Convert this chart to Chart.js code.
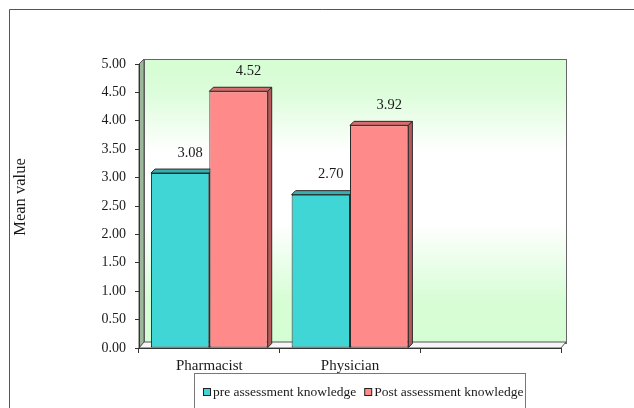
<!DOCTYPE html>
<html lang="en">
<head>
    <meta charset="UTF-8">
    <title>Mean value</title>
    <script src="https://cdn.jsdelivr.net/npm/chart.js"></script>
    <style>
        body {
            margin: 0;
            background: #ffffff;
        }
        #wrap {
            width: 634px;
            height: 408px;
        }
    </style>
</head>
<body>
<div id="wrap"><canvas id="kChart" width="634" height="408"></canvas></div>
<script>
    const categories = ['Pharmacist', 'Physician', ''];
    const preKnowledge = [3.08, 2.70, null];
    const postKnowledge = [4.52, 3.92, null];
    const seriesNames = ['pre assessment knowledge', 'Post assessment knowledge'];
    const yMin = 0, yMax = 5, yStep = 0.5;

    const serif = "'Liberation Serif', 'Times New Roman', serif";
    const faces = [
        { front: '#40d6d5', top: '#35b0b0', side: '#2c9695' },
        { front: '#ff8a8a', top: '#d86d6d', side: '#b85858' }
    ];

    // walls, floor, 3D faces, labels, legend and frame
    const deco = {
        id: 'deco',
        beforeDraw(chart) {
            const { ctx, chartArea: a } = chart;
            const dx = 5, dy = 6;
            ctx.save();
            // back wall
            const g = ctx.createLinearGradient(0, a.top - dy, 0, a.bottom - dy);
            g.addColorStop(0, '#d5fdd3');
            g.addColorStop(0.12, '#dcfdda');
            g.addColorStop(0.33, '#ffffff');
            g.addColorStop(0.58, '#ffffff');
            g.addColorStop(0.85, '#d8fdd6');
            g.addColorStop(1, '#d5fdd3');
            ctx.fillStyle = g;
            ctx.fillRect(a.left + dx, a.top - dy + 1, a.right - a.left, a.bottom - a.top);
            ctx.strokeStyle = '#666';
            ctx.lineWidth = 1;
            ctx.strokeRect(a.left + dx + 0.5, a.top - dy + 1.5, a.right - a.left, a.bottom - a.top);
            // left wall
            ctx.beginPath();
            ctx.moveTo(a.left, a.top);
            ctx.lineTo(a.left + dx, a.top - dy + 1);
            ctx.lineTo(a.left + dx, a.bottom - dy);
            ctx.lineTo(a.left, a.bottom);
            ctx.closePath();
            ctx.fillStyle = '#9db79c';
            ctx.fill();
            ctx.strokeStyle = '#555';
            ctx.stroke();
            // floor
            ctx.beginPath();
            ctx.moveTo(a.left, a.bottom);
            ctx.lineTo(a.left + dx, a.bottom - dy);
            ctx.lineTo(a.right + dx, a.bottom - dy);
            ctx.lineTo(a.right, a.bottom);
            ctx.closePath();
            ctx.fillStyle = '#f6f6f6';
            ctx.fill();
            ctx.strokeStyle = '#555';
            ctx.stroke();
            ctx.restore();
        },
        beforeDatasetsDraw(chart) {
            const ctx = chart.ctx;
            const d = 4;
            ctx.save();
            ctx.lineWidth = 1;
            ctx.strokeStyle = '#2a2a2a';
            chart.data.datasets.forEach((ds, i) => {
                chart.getDatasetMeta(i).data.forEach((bar, j) => {
                    if (ds.data[j] == null) return;
                    const x0 = bar.x - bar.width / 2, x1 = bar.x + bar.width / 2;
                    const y = bar.y, b = bar.base;
                    ctx.beginPath();
                    ctx.moveTo(x0, y);
                    ctx.lineTo(x0 + d, y - d);
                    ctx.lineTo(x1 + d, y - d);
                    ctx.lineTo(x1, y);
                    ctx.closePath();
                    ctx.fillStyle = faces[i].top;
                    ctx.fill();
                    ctx.stroke();
                    ctx.beginPath();
                    ctx.moveTo(x1, y);
                    ctx.lineTo(x1 + d, y - d);
                    ctx.lineTo(x1 + d, b - d);
                    ctx.lineTo(x1, b);
                    ctx.closePath();
                    ctx.fillStyle = faces[i].side;
                    ctx.fill();
                    ctx.stroke();
                });
            });
            ctx.restore();
        },
        afterDraw(chart) {
            const { ctx } = chart;
            ctx.save();
            // value labels
            ctx.font = '14.5px ' + serif;
            ctx.fillStyle = '#1a1a1a';
            ctx.textAlign = 'center';
            ctx.textBaseline = 'middle';
            chart.data.datasets.forEach((ds, i) => {
                chart.getDatasetMeta(i).data.forEach((bar, j) => {
                    if (ds.data[j] == null) return;
                    ctx.fillText(ds.data[j].toFixed(2), bar.x + 10, bar.y - 20);
                });
            });
            // axis title
            ctx.save();
            ctx.font = '16.5px ' + serif;
            ctx.translate(21, 197);
            ctx.rotate(-Math.PI / 2);
            ctx.fillText('Mean value', 0, 0);
            ctx.restore();
            // legend
            ctx.strokeStyle = '#777';
            ctx.lineWidth = 1;
            ctx.strokeRect(194.5, 373.5, 331, 60);
            ctx.font = '13.5px ' + serif;
            ctx.textAlign = 'left';
            ctx.textBaseline = 'alphabetic';
            let x = 203;
            chart.data.datasets.forEach((ds, i) => {
                ctx.fillStyle = faces[i].front;
                ctx.fillRect(x + 0.5, 388.5, 7, 7);
                ctx.strokeStyle = '#222';
                ctx.strokeRect(x + 0.5, 388.5, 7, 7);
                ctx.fillStyle = '#1a1a1a';
                ctx.fillText(ds.label, x + 10, 396);
                x += 10 + ctx.measureText(ds.label).width + 8;
            });
            // outer frame
            ctx.strokeStyle = '#555';
            ctx.beginPath();
            ctx.moveTo(9.5, 420);
            ctx.lineTo(9.5, 9.5);
            ctx.lineTo(640, 9.5);
            ctx.stroke();
            ctx.restore();
        }
    };

    new Chart(document.getElementById('kChart'), {
        type: 'bar',
        data: {
            labels: categories,
            datasets: [
                {
                    label: seriesNames[0],
                    data: preKnowledge,
                    backgroundColor: faces[0].front,
                    borderColor: '#2a2a2a',
                    borderWidth: 1,
                    borderSkipped: false,
                    barPercentage: 1,
                    categoryPercentage: 0.83
                },
                {
                    label: seriesNames[1],
                    data: postKnowledge,
                    backgroundColor: faces[1].front,
                    borderColor: '#2a2a2a',
                    borderWidth: 1,
                    borderSkipped: false,
                    barPercentage: 1,
                    categoryPercentage: 0.83
                }
            ]
        },
        options: {
            responsive: false,
            animation: false,
            layout: { padding: { top: 64, right: 73, left: 0, bottom: 0 } },
            plugins: {
                legend: { display: false },
                tooltip: { enabled: false }
            },
            scales: {
                x: {
                    afterFit: s => { s.height = 60; },
                    grid: { drawOnChartArea: false, offset: true, tickLength: 5, color: '#333' },
                    border: { color: '#333' },
                    ticks: { color: '#1a1a1a', padding: 4, font: { family: serif, size: 15 } }
                },
                y: {
                    min: yMin,
                    max: yMax,
                    afterFit: s => { s.width = 139; },
                    grid: { drawOnChartArea: false, tickLength: 4, color: '#333' },
                    border: { color: '#333' },
                    ticks: {
                        stepSize: yStep,
                        padding: 9,
                        color: '#1a1a1a',
                        font: { family: serif, size: 14 },
                        callback: v => v.toFixed(2)
                    }
                }
            }
        },
        plugins: [deco]
    });
</script>
</body>
</html>
